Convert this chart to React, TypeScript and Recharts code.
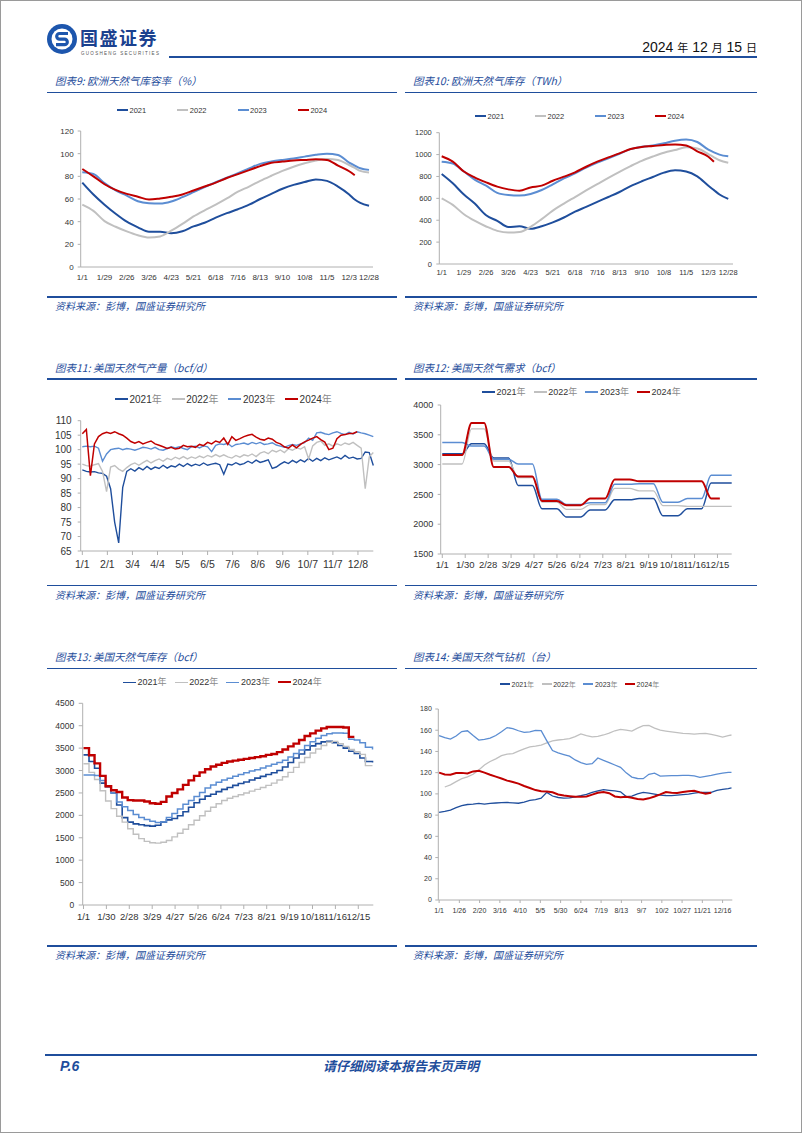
import type { ReactNode } from "react";
import { Line, LineChart, XAxis, YAxis } from "recharts";

const C2021 = "#1f4e9c";
const C2022 = "#c0c0c0";
const C2023 = "#5b8dd2";
const C2024 = "#c00000";
const INK = "#1f4e9c";
const SANS = '"Liberation Sans", Arial, "Noto Sans CJK SC", sans-serif';
const CJK = '"Noto Sans CJK SC", "Liberation Sans", sans-serif';

const years = ["2021", "2022", "2023", "2024"];
const colors = [C2021, C2022, C2023, C2024];

// 图表9 / 图表10: 欧洲库容率、库存（两周一个点）
const euDays = [0, 14, 28, 42, 56, 70, 84, 98, 112, 126, 140, 154, 168, 182, 196, 210, 224, 238, 252, 266, 280, 294, 308, 322, 336, 343, 350, 361];
const euTicks = [0, 28, 56, 84, 112, 140, 168, 196, 224, 252, 280, 308, 336, 361];
const euLabels = ["1/1", "1/29", "2/26", "3/26", "4/23", "5/21", "6/18", "7/16", "8/13", "9/10", "10/8", "11/5", "12/3", "12/28"];

const euRate2021 = [74.5, 64, 55, 47, 40, 35, 31, 31, 29.8, 31.5, 35.8, 39, 43.5, 47.5, 51, 55, 60, 64.5, 69, 72.5, 75, 77.3, 76, 71, 64, 59.5, 56.5, 54];
const euRate2022 = [55, 49.5, 40.5, 35.5, 31.4, 28, 26, 27, 32, 38, 44.6, 50, 55, 60.5, 66.5, 71, 76, 80.5, 84.8, 88.5, 91.5, 94, 95.4, 94.5, 90, 87.5, 84.8, 83.3];
const euRate2023 = [83.5, 82, 74, 67.5, 63, 58, 56.3, 56, 57.8, 61.6, 66, 70.5, 74.8, 78.8, 82.7, 87, 91, 93, 94.5, 95.8, 97.4, 99, 100, 98.9, 92.1, 89.5, 87.1, 85.7];
const euRate2024 = [86.5, 80, 73, 68, 64.5, 62, 59.5, 60.5, 62, 64, 67.5, 71, 74.5, 78.5, 82, 85.5, 89, 92, 93, 94, 94.5, 95, 94.5, 89.5, 84.5, 81];

const euStock2021 = [822, 737, 635, 550, 445, 395, 338, 345, 322, 345, 380, 425, 478, 522, 568, 612, 658, 712, 756, 795, 835, 856, 845, 800, 715, 675, 635, 595];
const euStock2022 = [600, 540, 455, 393, 343, 303, 287, 292, 340, 410, 488, 552, 612, 672, 730, 788, 843, 895, 943, 982, 1017, 1042, 1066, 1055, 1005, 975, 948, 926];
const euStock2023 = [935, 918, 845, 768, 716, 650, 630, 625, 640, 676, 728, 783, 828, 880, 926, 966, 1008, 1050, 1072, 1082, 1103, 1127, 1138, 1115, 1045, 1020, 1000, 984];
const euStock2024 = [985, 935, 845, 790, 746, 707, 682, 670, 700, 716, 761, 798, 838, 889, 935, 975, 1011, 1051, 1070, 1078, 1087, 1093, 1083, 1030, 980, 935];

// 图表11: 美国天然气产量（每5天一个点）
const prodDays = Array.from({ length: 73 }, (_, i) => i * 5);
const prodTicks = [0, 31, 62, 93, 124, 155, 186, 217, 248, 279, 310, 341];
const prodLabels = ["1/1", "2/1", "3/4", "4/4", "5/5", "6/5", "7/6", "8/6", "9/6", "10/7", "11/7", "12/8"];
const prod2021 = [93, 92.5, 92.3, 92.4, 92, 91.8, 90.8, 86.5, 75, 67.8, 87, 92.5, 93.4, 92.6, 93.8, 93, 94.2, 93.2, 94, 93.5, 94.6, 93.6, 94.4, 94, 95, 94.2, 95.2, 94.4, 95, 94.5, 95.4, 94.6, 95, 95.3, 94.8, 91.5, 95, 94.7, 95.5, 94.8, 95.2, 96, 95.3, 96.4, 95.6, 96, 96.5, 93.5, 94, 95, 95.8, 95.2, 96.3, 95.5, 96.5, 95.8, 97, 96, 97, 96.2, 97.2, 96.5, 97, 97.5, 96.8, 98, 97, 97.4, 96.8, 97, 99.2, 99, 94.5];
const prod2022 = [95, 94.5, 94.3, 94.8, 95.2, 92.5, 85.5, 94, 94.5, 93.3, 92.5, 93.8, 94.8, 95.4, 94.6, 95.5, 96.3, 95.4, 96.2, 96.8, 96, 97, 96.5, 97.4, 96.8, 97.6, 96.8, 97.5, 97, 97.8, 97.2, 98, 97.5, 98.3, 97.6, 98.2, 97.5, 97.1, 98, 97.4, 98.2, 97.8, 98.5, 97.6, 98.8, 99.3, 98.6, 99.8, 99.2, 99.9, 99, 100.3, 99.8, 100.6, 100.2, 101, 96.8, 101.3, 102.5, 103, 101.5, 102, 101.2, 102, 101.5, 102.3, 101.8, 102.5, 101.5, 100.5, 86.5, 97.5, 99];
const prod2023 = [101, 101.2, 101, 101.2, 100.5, 96, 98.5, 100, 100.3, 100.5, 100, 100.4, 100.2, 99.8, 100.3, 100.8, 100.6, 100.2, 100.8, 100, 99.8, 100.4, 101, 100.6, 101, 100.4, 100, 101, 101.2, 100.6, 101.3, 101, 99.3, 101.5, 102, 101.8, 102.2, 101, 101.8, 102, 102.3, 101.8, 102.5, 102, 102.5, 101.8, 102, 102.4, 101.6, 101.2, 100.8, 101.4, 101.8, 101.5, 102, 102.4, 104, 103.2, 105.8, 106, 105.5, 105.2, 105.8, 106.2, 105.6, 105.2, 106, 105.4, 106.2, 105.8, 105.5, 105, 104.5];
const prod2024 = [105.5, 107, 91, 102, 104.5, 105.5, 106, 105.6, 106.2, 105.5, 105, 104, 102.8, 102.2, 102.8, 102, 102.5, 103, 102, 101.5, 101, 100.4, 100.8, 100.2, 100.5, 101.5, 101, 101.2, 100.8, 101.8, 101.4, 102.5, 102, 103, 102.5, 104, 101.8, 104.5, 103.2, 103.8, 104.5, 105, 105.3, 104.3, 103.6, 103.3, 104, 103.6, 102.5, 102, 101, 100.5, 101.6, 100.6, 101.8, 102.7, 103.3, 104, 104.5, 103.5, 102.6, 100, 100.5, 103.8, 105, 105.2, 105.6, 105.6, 106.2];

// 图表12: 美国天然气需求（月度平台的起止点）
const demandDays = [0, 25, 37, 53, 65, 84, 96, 114, 126, 145, 157, 175, 187, 206, 218, 237, 249, 267, 279, 298, 310, 328, 340, 351, 366];
const usTicks = [0, 29, 58, 87, 116, 145, 174, 203, 232, 261, 290, 319, 348];
const usLabels = ["1/1", "1/30", "2/28", "3/29", "4/27", "5/26", "6/24", "7/23", "8/21", "9/19", "10/18", "11/16", "12/15"];
const demand2021 = [3180, 3180, 3350, 3350, 3110, 3110, 2650, 2650, 2260, 2260, 2120, 2120, 2240, 2240, 2410, 2410, 2430, 2430, 2140, 2140, 2260, 2260, 2690, 2690, 2690];
const demand2022 = [3010, 3010, 3600, 3600, 3060, 3060, 2780, 2780, 2370, 2370, 2250, 2250, 2330, 2330, 2600, 2600, 2560, 2560, 2310, 2310, 2300, 2300, 2300, 2300, 2300];
const demand2023 = [3370, 3370, 3310, 3310, 3090, 3090, 3010, 3010, 2420, 2420, 2330, 2330, 2360, 2360, 2670, 2670, 2680, 2680, 2370, 2370, 2430, 2430, 2820, 2820, 2820];
const demand2024 = [3160, 3160, 3700, 3700, 2960, 2960, 2800, 2800, 2390, 2390, 2320, 2320, 2430, 2430, 2750, 2750, 2720, 2720, 2720, 2720, 2720, 2720, 2430, 2430];

// 图表13: 美国天然气库存（周度）
const storageDays = [...Array.from({ length: 52 }, (_, i) => i * 7), 366];
const storage2021 = [3350, 3200, 3050, 2720, 2640, 2500, 2230, 1950, 1850, 1810, 1790, 1770, 1760, 1780, 1850, 1900, 1930, 1990, 2080, 2180, 2280, 2360, 2430, 2470, 2530, 2580, 2620, 2670, 2710, 2745, 2790, 2830, 2870, 2910, 2950, 3000, 3080, 3180, 3280, 3370, 3460, 3550, 3600, 3640, 3650, 3620, 3560, 3500, 3430, 3380, 3280, 3200, 3180];
const storage2022 = [3150, 2960, 2800, 2550, 2320, 2150, 1980, 1850, 1700, 1580, 1480, 1420, 1390, 1380, 1400, 1440, 1520, 1600, 1690, 1790, 1890, 1990, 2090, 2180, 2260, 2330, 2380, 2420, 2460, 2500, 2540, 2580, 2620, 2670, 2720, 2790, 2860, 2960, 3070, 3180, 3290, 3390, 3480, 3560, 3630, 3650, 3600, 3540, 3470, 3420, 3360, 3110, 3110];
const storage2023 = [2900, 2900, 2890, 2780, 2640, 2500, 2300, 2190, 2110, 2020, 1950, 1910, 1870, 1840, 1850, 1950, 2040, 2140, 2250, 2330, 2420, 2510, 2610, 2680, 2740, 2790, 2830, 2870, 2910, 2950, 2990, 3020, 3055, 3100, 3140, 3180, 3230, 3300, 3380, 3460, 3560, 3640, 3720, 3780, 3820, 3840, 3840, 3830, 3700, 3680, 3620, 3520, 3470];
const storage2024 = [3500, 3340, 3160, 2880, 2650, 2560, 2520, 2400, 2340, 2330, 2330, 2310, 2270, 2260, 2300, 2420, 2500, 2580, 2680, 2780, 2880, 2960, 3030, 3090, 3130, 3170, 3200, 3220, 3240, 3260, 3280, 3300, 3320, 3350, 3370, 3410, 3470, 3540, 3600, 3680, 3770, 3830, 3890, 3940, 3970, 3970, 3970, 3960, 3750, 3750];

// 图表14: 美国天然气钻机（周度）
const rigDays = [...Array.from({ length: 52 }, (_, i) => i * 7), 361];
const rigTicks = [0, 25, 50, 75, 100, 125, 150, 175, 200, 225, 250, 275, 300, 325, 350];
const rigLabels = ["1/1", "1/26", "2/20", "3/16", "4/10", "5/5", "5/30", "6/24", "7/19", "8/13", "9/7", "10/2", "10/27", "11/21", "12/16"];
const rig2021 = [82.5, 83.5, 84.8, 87, 89, 90, 90.3, 91, 90.3, 91, 91.4, 91.8, 91.9, 91.6, 91.2, 92.3, 93.8, 94.5, 96, 101.4, 98, 96.6, 96, 96.3, 97.2, 98.3, 99.6, 101.5, 102.9, 104, 103.4, 102.8, 102, 97.5, 97.8, 100, 101.4, 100.8, 99.8, 98.9, 98.5, 98.3, 98.8, 99.4, 99.7, 100.8, 101.4, 101.3, 101.4, 103.4, 104.3, 105, 105.7];
const rig2022 = [null, 106.5, 108.5, 111.5, 114.3, 116, 118.5, 122.5, 127.3, 130.5, 133, 136, 137.5, 138, 140.3, 142.5, 144.3, 145, 146, 148, 150, 150.8, 151.3, 152, 154, 156.5, 155, 153.8, 154.2, 155.5, 157.3, 159.5, 160.8, 160, 159.2, 162, 164.3, 164.5, 162, 160, 159.2, 158.5, 157.8, 157, 156.8, 156.3, 156.8, 157, 156, 155, 153.5, 155, 155.5];
const rig2023 = [155, 153, 151.7, 154.5, 158.8, 159.5, 155, 150.7, 151.4, 152.5, 155, 158.5, 162.5, 161.5, 159.5, 158, 158.5, 159.8, 159.6, 150, 140.8, 138.6, 137, 135.5, 132, 129.5, 127.9, 128.5, 133.8, 131.5, 129.5, 127.2, 125, 119.8, 115.8, 114.5, 114.3, 118.5, 119.5, 116.8, 117, 117.2, 117.3, 117.4, 117.5, 117, 115.6, 116.5, 117.5, 118.7, 119.6, 120.2, 120.3];
const rig2024 = [120, 118.3, 118, 119.6, 119.8, 119.2, 121.2, 121.8, 120, 118, 116.3, 114.5, 112.5, 111.2, 109.7, 107.4, 105.5, 103.6, 102.5, 102.3, 101.5, 99.5, 98.4, 97.8, 97.3, 97.3, 97.6, 99.3, 101, 101.8, 100.6, 97.6, 96.8, 97.2, 96.4, 95.2, 94.8, 95.8, 97.5, 99.5, 101.7, 101, 100.8, 101.8, 102.4, 103, 101.4, 100.1, 101];

type Series = { name: string; values: (number | null)[]; color: string; width: number };
type LegendSpec = { cy: number; x: number; step: number; line: number; font: number; suffix: string };

function yearSeries(values: (number | null)[][], widths: number[]): Series[] {
  return years.map((name, i) => ({ name, values: values[i], color: colors[i], width: widths[i] }));
}

type PanelProps = {
  left: number;
  top: number;
  width: number;
  height: number;
  margin: { top: number; right: number; bottom: number; left: number };
  yWidth: number;
  xHeight: number;
  days: number[];
  series: Series[];
  curve: "monotone" | "linear" | "stepAfter";
  xDomain: [number, number];
  xTicks: number[];
  xLabels: string[];
  xFont: number;
  xTick: [number, number];
  xTickLine: boolean;
  yDomain: [number, number];
  yTicks: number[];
  yFont: number;
  yTick: [number, number];
  legend: LegendSpec;
};

function YearLegend({ spec, series }: { spec: LegendSpec; series: Series[] }) {
  return (
    <>
      {series.map((s, i) => {
        const x = spec.x + i * spec.step;
        return (
          <div key={s.name}>
            <div
              style={{
                position: "absolute",
                left: x,
                top: spec.cy - s.width / 2,
                width: spec.line,
                height: s.width,
                background: s.color,
              }}
            />
            <div
              style={{
                position: "absolute",
                left: x + spec.line + 1.5,
                top: spec.cy - spec.font * 0.6,
                fontSize: spec.font,
                lineHeight: `${spec.font * 1.2}px`,
                color: "#333",
                whiteSpace: "nowrap",
              }}
            >
              {s.name}
              {spec.suffix && <span style={{ color: "#8a8a8a", fontFamily: CJK }}>{spec.suffix}</span>}
            </div>
          </div>
        );
      })}
    </>
  );
}

function ChartPanel(p: PanelProps) {
  const rows = p.days.map((day, i) => {
    const row: Record<string, number | null> = { day };
    p.series.forEach((s) => {
      row[s.name] = s.values[i] ?? null;
    });
    return row;
  });
  return (
    <div style={{ position: "absolute", left: p.left, top: p.top, width: p.width, height: p.height }}>
      <LineChart width={p.width} height={p.height} data={rows} margin={p.margin}>
        <XAxis
          type="number"
          dataKey="day"
          domain={p.xDomain}
          ticks={p.xTicks}
          interval={0}
          tickFormatter={(v) => p.xLabels[p.xTicks.indexOf(v)] ?? ""}
          height={p.xHeight}
          stroke="#b0b0b0"
          tickLine={p.xTickLine}
          tickSize={p.xTick[0]}
          tickMargin={p.xTick[1]}
          tick={{ fill: "#333", fontSize: p.xFont }}
        />
        <YAxis
          type="number"
          domain={p.yDomain}
          ticks={p.yTicks}
          interval={0}
          width={p.yWidth}
          stroke="#b0b0b0"
          tickSize={p.yTick[0]}
          tickMargin={p.yTick[1]}
          tick={{ fill: "#333", fontSize: p.yFont }}
        />
        {p.series.map((s) => (
          <Line
            key={s.name}
            dataKey={s.name}
            type={p.curve}
            stroke={s.color}
            strokeWidth={s.width}
            dot={false}
            activeDot={false}
            isAnimationActive={false}
          />
        ))}
      </LineChart>
      <YearLegend spec={p.legend} series={p.series} />
    </div>
  );
}

function Text({
  x,
  cy,
  size,
  children,
  style,
  lh = 1.3,
}: {
  x: number;
  cy: number;
  size: number;
  children: ReactNode;
  style?: object;
  lh?: number;
}) {
  return (
    <div
      style={{
        position: "absolute",
        left: x,
        top: cy - (size * lh) / 2,
        fontSize: size,
        lineHeight: `${size * lh}px`,
        whiteSpace: "nowrap",
        ...style,
      }}
    >
      {children}
    </div>
  );
}

function Rule({ x, y, w, h = 1.6 }: { x: number; y: number; w: number; h?: number }) {
  return <div style={{ position: "absolute", left: x, top: y - h / 2, width: w, height: h, background: INK }} />;
}

function Section({ col, titleY, ruleY, sourceRuleY, sourceY, title }: { col: 0 | 1; titleY: number; ruleY: number; sourceRuleY: number; sourceY: number; title: string }) {
  const x = col === 0 ? 47 : 405;
  const w = col === 0 ? 350 : 352;
  const italic = { fontStyle: "italic", color: INK, fontFamily: CJK };
  return (
    <>
      <Text x={x + 8} cy={titleY} size={10.5} style={italic}>
        {title}
      </Text>
      <Rule x={x} y={ruleY} w={w} />
      <Rule x={x} y={sourceRuleY} w={w} />
      <Text x={x + 8} cy={sourceY} size={10} style={italic}>
        资料来源：彭博，国盛证券研究所
      </Text>
    </>
  );
}

export default function App() {
  return (
    <div
      style={{
        position: "absolute",
        left: 0,
        top: 0,
        width: 802,
        height: 1133,
        background: "#fff",
        overflow: "hidden",
        fontFamily: SANS,
      }}
    >
      {/* header */}
      <svg width={32} height={32} viewBox="0 0 32 32" style={{ position: "absolute", left: 46, top: 23 }}>
        <circle cx={16} cy={16} r={15} fill="#1d56ad" />
        <circle cx={16} cy={16} r={10.5} fill="#fff" />
        <path d="M22 10.5 H13.5 a2.8 2.8 0 0 0 0 5.6 h5 a2.8 2.8 0 0 1 0 5.6 H10" stroke="#1d56ad" strokeWidth={3.2} fill="none" />
      </svg>
      <Text x={80} cy={37} size={18} lh={1} style={{ fontFamily: CJK, fontWeight: 700, color: "#1b418f", letterSpacing: 1.5 }}>
        国盛证券
      </Text>
      <Text x={81} cy={54.5} size={4.5} lh={1} style={{ color: "#555", letterSpacing: 1.3 }}>
        GUOSHENG SECURITIES
      </Text>
      <Rule x={169} y={57} w={588} h={1.8} />
      <div style={{ position: "absolute", right: 45, top: 39, fontSize: 14, lineHeight: "16px", color: "#111", whiteSpace: "nowrap" }}>
        2024 <span style={{ fontFamily: CJK, fontSize: 11 }}>年</span> 12 <span style={{ fontFamily: CJK, fontSize: 11 }}>月</span> 15{" "}
        <span style={{ fontFamily: CJK, fontSize: 11 }}>日</span>
      </div>

      <Section col={0} titleY={81} ruleY={92.7} sourceRuleY={297} sourceY={305.5} title="图表9: 欧洲天然气库容率（%）" />
      <Section col={1} titleY={81} ruleY={92.7} sourceRuleY={297} sourceY={305.5} title="图表10: 欧洲天然气库存（TWh）" />
      <Section col={0} titleY={367.5} ruleY={379} sourceRuleY={585.5} sourceY={594} title="图表11: 美国天然气产量（bcf/d）" />
      <Section col={1} titleY={367.5} ruleY={379} sourceRuleY={585.5} sourceY={594} title="图表12: 美国天然气需求（bcf）" />
      <Section col={0} titleY={656.7} ruleY={668.3} sourceRuleY={946} sourceY={954} title="图表13: 美国天然气库存（bcf）" />
      <Section col={1} titleY={656.7} ruleY={668.3} sourceRuleY={946} sourceY={954} title="图表14: 美国天然气钻机（台）" />

      <ChartPanel
        left={40}
        top={95}
        width={345}
        height={200}
        margin={{ top: 36, right: 12, bottom: 6, left: 6.7 }}
        yWidth={34}
        xHeight={22}
        days={euDays}
        series={yearSeries([euRate2021, euRate2022, euRate2023, euRate2024], [2, 2, 2, 2])}
        curve="monotone"
        xDomain={[-2, 366]}
        xTicks={euTicks}
        xLabels={euLabels}
        xFont={8}
        xTick={[5, 2]}
        xTickLine={false}
        yDomain={[0, 120]}
        yTicks={[0, 20, 40, 60, 80, 100, 120]}
        yFont={8}
        yTick={[3, 4]}
        legend={{ cy: 15, x: 77, step: 60.3, line: 11, font: 7.5, suffix: "" }}
      />

      <ChartPanel
        left={400}
        top={95}
        width={345}
        height={200}
        margin={{ top: 37.7, right: 12, bottom: 9, left: 6.3 }}
        yWidth={33}
        xHeight={22}
        days={euDays}
        series={yearSeries([euStock2021, euStock2022, euStock2023, euStock2024], [2, 2, 2, 2])}
        curve="monotone"
        xDomain={[-3, 367]}
        xTicks={euTicks}
        xLabels={euLabels}
        xFont={7.5}
        xTick={[4, 2]}
        xTickLine={false}
        yDomain={[0, 1200]}
        yTicks={[0, 200, 400, 600, 800, 1000, 1200]}
        yFont={7.5}
        yTick={[3, 4.5]}
        legend={{ cy: 21, x: 75, step: 60, line: 11, font: 7.5, suffix: "" }}
      />

      <ChartPanel
        left={40}
        top={380}
        width={345}
        height={200}
        margin={{ top: 40.7, right: 11.7, bottom: 7, left: 6.7 }}
        yWidth={34}
        xHeight={22}
        days={prodDays}
        series={yearSeries([prod2021, prod2022, prod2023, prod2024], [1.4, 1.4, 1.4, 1.5])}
        curve="linear"
        xDomain={[-2, 360]}
        xTicks={prodTicks}
        xLabels={prodLabels}
        xFont={10.5}
        xTick={[4, 6]}
        xTickLine={true}
        yDomain={[65, 110]}
        yTicks={[65, 70, 75, 80, 85, 90, 95, 100, 105, 110]}
        yFont={10}
        yTick={[3, 6]}
        legend={{ cy: 19, x: 75, step: 56.7, line: 13, font: 10, suffix: "年" }}
      />

      <ChartPanel
        left={400}
        top={380}
        width={345}
        height={200}
        margin={{ top: 25, right: 13.3, bottom: 6, left: 6.7 }}
        yWidth={34}
        xHeight={20}
        days={demandDays}
        series={yearSeries([demand2021, demand2022, demand2023, demand2024], [1.5, 1.3, 1.5, 2])}
        curve="monotone"
        xDomain={[-2, 365]}
        xTicks={usTicks}
        xLabels={usLabels}
        xFont={9.5}
        xTick={[4, 3]}
        xTickLine={true}
        yDomain={[1500, 4000]}
        yTicks={[1500, 2000, 2500, 3000, 3500, 4000]}
        yFont={9}
        yTick={[3, 4.5]}
        legend={{ cy: 12, x: 82, step: 51.7, line: 13, font: 9, suffix: "年" }}
      />

      <ChartPanel
        left={40}
        top={670}
        width={345}
        height={260}
        margin={{ top: 33.3, right: 11.7, bottom: 5, left: 6.7 }}
        yWidth={36}
        xHeight={20}
        days={storageDays}
        series={yearSeries([storage2021, storage2022, storage2023, storage2024], [1.6, 1.4, 1.5, 2.4])}
        curve="stepAfter"
        xDomain={[-1, 367]}
        xTicks={usTicks}
        xLabels={usLabels}
        xFont={9.5}
        xTick={[4, 4]}
        xTickLine={true}
        yDomain={[0, 4500]}
        yTicks={[0, 500, 1000, 1500, 2000, 2500, 3000, 3500, 4000, 4500]}
        yFont={8.5}
        yTick={[4, 4.5]}
        legend={{ cy: 12.3, x: 83, step: 51.7, line: 13, font: 9, suffix: "年" }}
      />

      <ChartPanel
        left={400}
        top={670}
        width={345}
        height={260}
        margin={{ top: 39, right: 12.7, bottom: 10, left: 6.3 }}
        yWidth={32}
        xHeight={20}
        days={rigDays}
        series={yearSeries([rig2021, rig2022, rig2023, rig2024], [1.3, 1.3, 1.3, 2])}
        curve="linear"
        xDomain={[-1, 362]}
        xTicks={rigTicks}
        xLabels={rigLabels}
        xFont={7}
        xTick={[3, 5]}
        xTickLine={true}
        yDomain={[0, 180]}
        yTicks={[0, 20, 40, 60, 80, 100, 120, 140, 160, 180]}
        yFont={7}
        yTick={[3, 3.5]}
        legend={{ cy: 14, x: 100, step: 41.7, line: 10, font: 7, suffix: "年" }}
      />

      {/* footer */}
      <Rule x={45} y={1055} w={712} h={1.6} />
      <Text x={60} cy={1066} size={14} style={{ fontStyle: "italic", fontWeight: 700, color: INK }}>
        P.6
      </Text>
      <div
        style={{
          position: "absolute",
          left: 0,
          width: 802,
          top: 1057,
          textAlign: "center",
          fontSize: 13,
          lineHeight: "18px",
          fontStyle: "italic",
          fontWeight: 700,
          color: INK,
          fontFamily: CJK,
        }}
      >
        请仔细阅读本报告末页声明
      </div>
      <div style={{ position: "absolute", left: 0, top: 0, width: 802, height: 1133, boxSizing: "border-box", border: "1px solid #9a9a9a", pointerEvents: "none" }} />
    </div>
  );
}
